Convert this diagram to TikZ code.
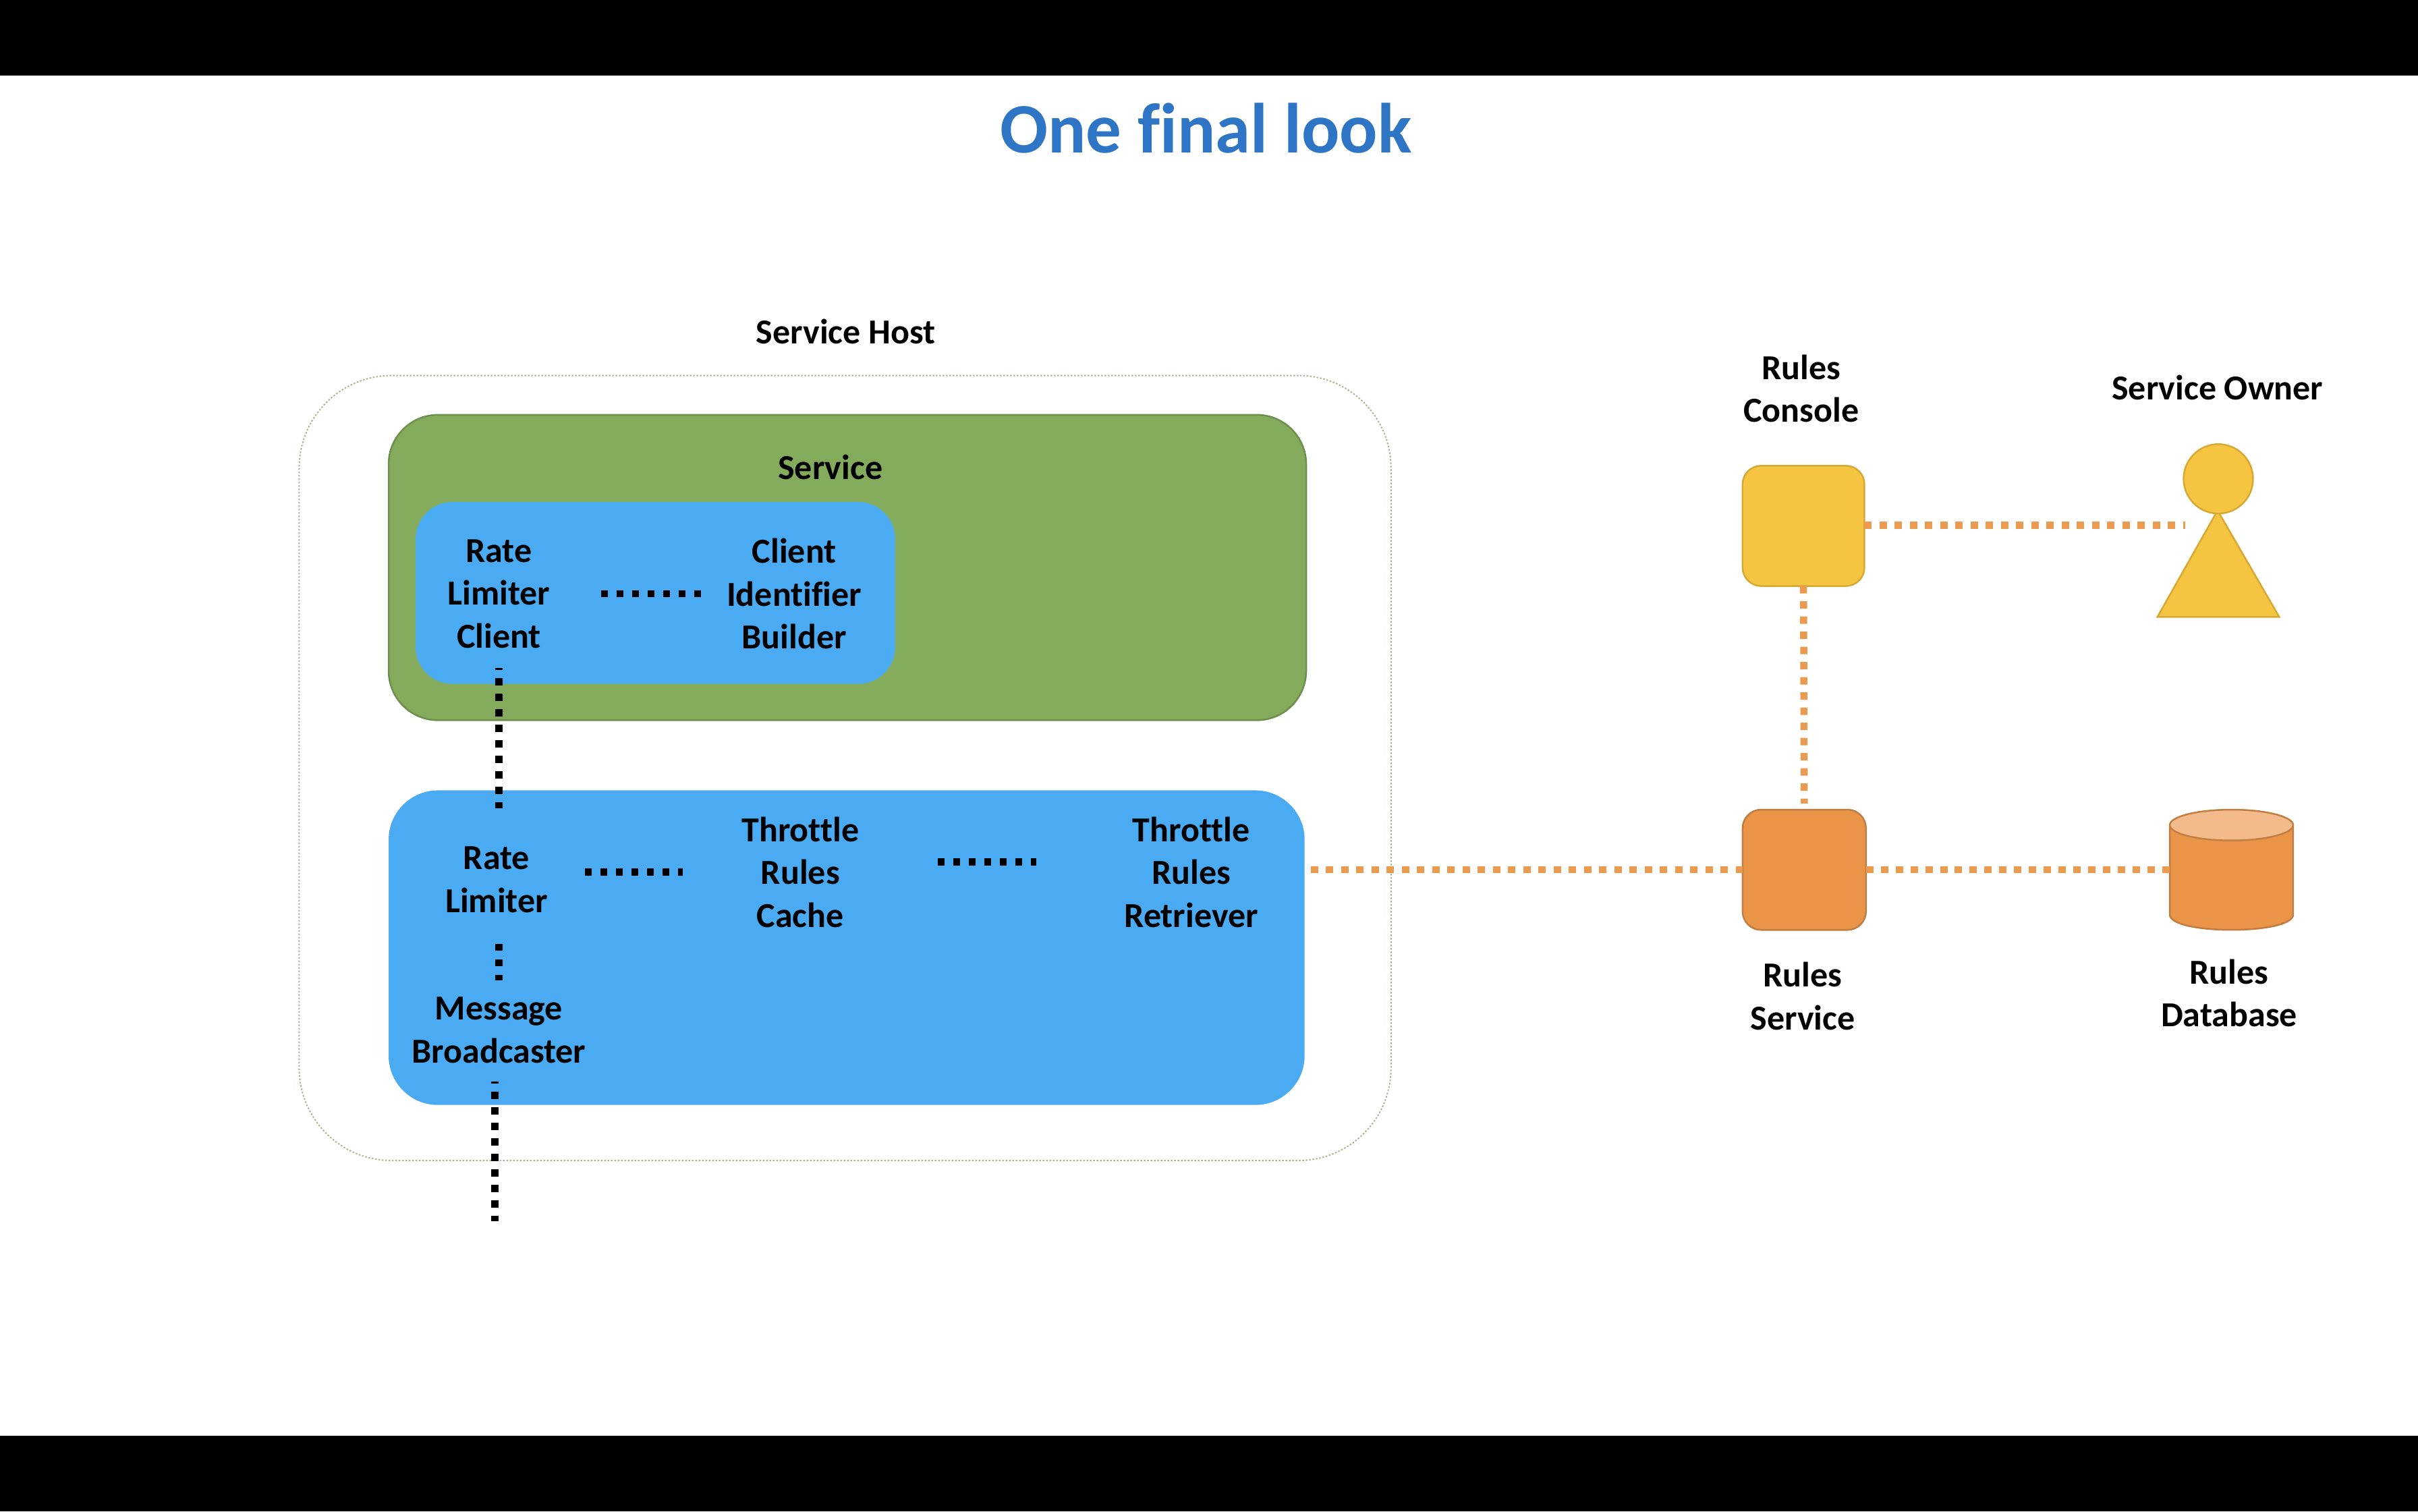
\documentclass[tikz,border=0pt]{standalone}
\usepackage{fontspec}
\setmainfont{Carlito}[Ligatures=CommonOff]
\definecolor{titleblue}{HTML}{2E76C5}
\definecolor{boxgreen}{HTML}{84AB5C}
\definecolor{edgegreen}{HTML}{6E8F4E}
\definecolor{boxblue}{HTML}{4AABF3}
\definecolor{boxyellow}{HTML}{F5C542}
\definecolor{edgeyellow}{HTML}{D8A835}
\definecolor{boxorange}{HTML}{EA9448}
\definecolor{edgeorange}{HTML}{C27D42}
\definecolor{cyltop}{HTML}{F3BB8C}
\definecolor{dotorange}{HTML}{EA9B50}
\definecolor{hostedge}{HTML}{A8B88E}
\def\u{0.022857cm}
\tikzset{
  x=\u, y=-\u,
  panel/.style={rounded corners=#1, inner sep=0pt, outer sep=0pt},
  lbl/.style={inner sep=0pt, outer sep=0pt, align=center, text=black, font=\fontsize{14.8}{18.1}\selectfont\bfseries},
  blackdots/.style={draw=black, line width=0.105cm, dash pattern=on 0.105cm off 0.125cm},
  blackstub/.style={blackdots, dash phase=0.08cm},
  orangedots/.style={draw=dotorange, line width=0.105cm, dash pattern=on 0.11cm off 0.115cm},
  shapeline/.style={line width=0.025cm},
}
\begin{document}
\begin{tikzpicture}
\useasboundingbox (0,0) rectangle (1568,980);
\fill[black] (0,0) rectangle (1568,49);
\fill[black] (0,931) rectangle (1568,980);
\node[inner sep=0pt, text=titleblue, font=\fontsize{29.9}{36}\selectfont\bfseries] (title) at (782,83) {One final look};

% service host
\node[panel=60*\u, draw=hostedge, line width=0.02cm, dash pattern=on 0.025cm off 0.025cm, minimum width={708*\u}, minimum height={509*\u}] (host) at (548,498) {};
\node[lbl] (hostlbl) at (548.5,215) {Service Host};

% service
\node[panel=32*\u, fill=boxgreen, draw=edgegreen, shapeline, minimum width={595*\u}, minimum height={198*\u}] (service) at (549.5,368) {};
\node[lbl] (servicelbl) at (538.5,303) {Service};
\node[panel=24*\u, fill=boxblue, minimum width={311*\u}, minimum height={118*\u}] (client) at (425,384.5) {};
\node[lbl] (rlc) at (323.5,385) {Rate\\Limiter\\Client};
\node[lbl] (cib) at (515,385) {Client\\Identifier\\Builder};

% rate limiter box
\node[panel=32*\u, fill=boxblue, minimum width={594*\u}, minimum height={204*\u}] (limiter) at (549,614.5) {};
\node[lbl] (rl) at (322,570.5) {Rate\\Limiter};
\node[lbl] (mb) at (323.5,668) {Message\\Broadcaster};
\node[lbl] (trc) at (519,565.5) {Throttle\\Rules\\Cache};
\node[lbl] (trr) at (772.5,565.5) {Throttle\\Rules\\Retriever};

% right side
\node[panel=12*\u, fill=boxyellow, draw=edgeyellow, shapeline, minimum width={79*\u}, minimum height={78*\u}] (console) at (1169.5,341) {};
\node[lbl] (consolelbl) at (1168,252) {Rules\\Console};
\node[panel=12*\u, fill=boxorange, draw=edgeorange, shapeline, minimum width={80*\u}, minimum height={78*\u}] (rules) at (1170,564) {};
\node[lbl] (ruleslbl) at (1169,646) {Rules\\Service};

% rules database cylinder
\draw[fill=boxorange, draw=edgeorange, shapeline] (1407,535) -- (1407,593) .. controls (1407,606.3) and (1487,606.3) .. (1487,593) -- (1487,535) -- cycle;
\draw[fill=cyltop, draw=edgeorange, shapeline] (1447,535) ellipse [x radius=40*\u, y radius=10*\u];
\node[inner sep=0pt, outer sep=0pt, minimum width={80*\u}, minimum height={78*\u}] (db) at (1447,564) {};
\node[lbl] (dblbl) at (1445.5,644) {Rules\\Database};

\node[lbl] (ownerlbl) at (1438,251.5) {Service Owner};
\draw[fill=boxyellow, draw=edgeyellow, shapeline, line join=miter] (1438,331) -- (1478,400) -- (1399,400) -- cycle;
\node[circle, fill=boxyellow, draw=edgeyellow, shapeline, inner sep=0pt, outer sep=0pt, minimum size={45*\u}] (head) at (1438.5,310.5) {};
\coordinate (ownerin) at (1417,340.5);
\coordinate (mbout) at (321,792);

% black connectors
\draw[blackstub, shorten <={13*\u}, shorten >={25*\u}] (rlc.south) -- (rl.north -| rlc.south);
\draw[blackdots, shorten <={33*\u}, shorten >={16*\u}] (rlc.east) -- (cib.west);
\draw[blackdots, shorten <={24*\u}, shorten >={38*\u}] (rl.east |- trc.west) -- (trc.west);
\draw[blackdots, shorten <={51*\u}, shorten >={57*\u}] ([yshift={6.5*\u}]trc.east) -- ([yshift={6.5*\u}]trr.west);
\draw[blackdots, shorten <={20*\u}, shorten >={11*\u}] (mb.north |- rl.south) -- (mb.north);
\draw[blackstub, shorten <={12*\u}] (mb.south -| mbout) -- (mbout);

% orange connectors
\draw[orangedots, shorten <={4*\u}] (rules.west -| limiter.east) -- (rules.west);
\draw[orangedots, dash pattern=on 0.11cm off 0.1095cm] (rules.east) -- (db.west);
\draw[orangedots] (console.east |- ownerin) -- (ownerin);
\draw[orangedots, shorten >={4*\u}] (console.south) -- (rules.north);
\end{tikzpicture}
\end{document}
